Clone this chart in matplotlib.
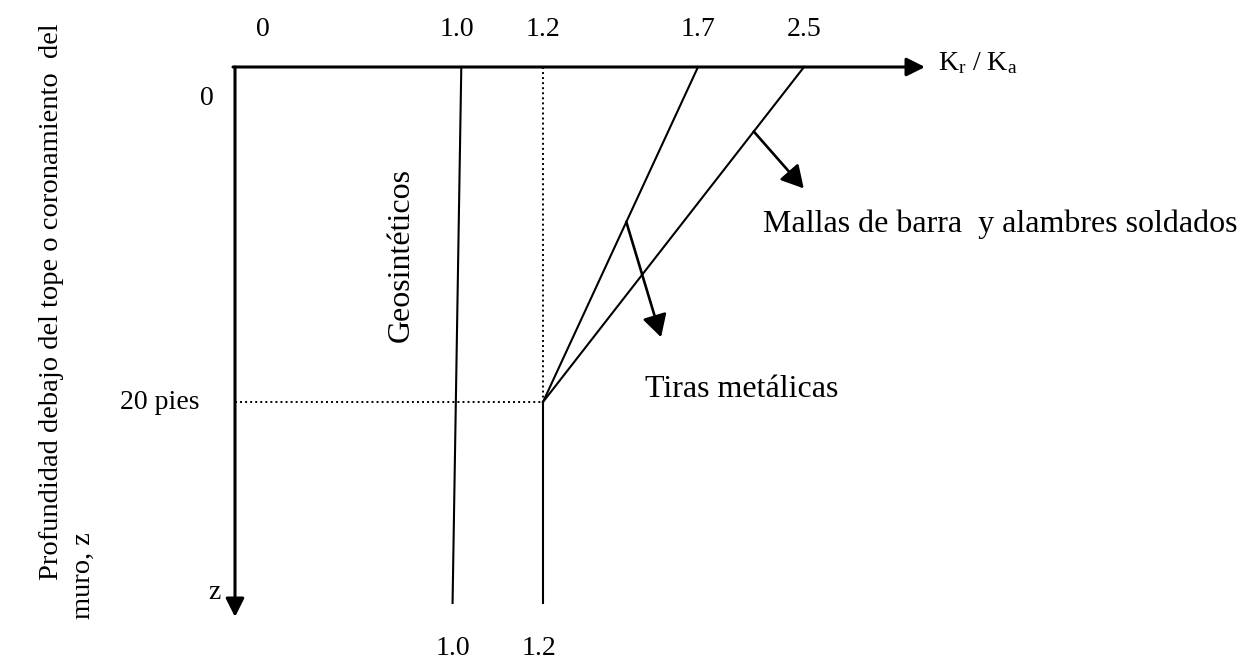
import numpy as np
import matplotlib.pyplot as plt

plt.rcParams['font.family'] = ['Liberation Serif', 'DejaVu Serif']
plt.rcParams['mathtext.fontset'] = 'custom'
plt.rcParams['mathtext.rm'] = 'Liberation Serif'
plt.rcParams['mathtext.it'] = 'Liberation Serif:italic'

# values
kr_ticks = [0, 1.0, 1.2, 1.7, 2.5]
kr_tick_labels = ['0', '1.0', '1.2', '1.7', '2.5']
kr_bottom = [1.0, 1.2]
kr_bottom_labels = ['1.0', '1.2']
z_crit = 20   # pies
z_max = 32    # schematic bottom, "z"

geo_kr = [1.01, 0.98]     # Geosinteticos (slightly slanted in original)
geo_z = [0, z_max]
tiras_kr = [1.7, 1.2]
tiras_z = [0, z_crit]
mallas_kr = [2.5, 1.2]
mallas_z = [0, z_crit]
deep_kr = [1.2, 1.2]
deep_z = [z_crit, z_max]
upper_kr = [1.2, 1.2]
upper_z = [0, z_crit]
crit_kr = [0, 1.2]
crit_z = [z_crit, z_crit]

# the diagram is not to scale -> piecewise axis (pixel positions of the ratios)
kr_knots = [-10, 0, 1.0, 1.2, 1.7, 2.5, 10]
px_knots = [235 - 2220, 235, 457, 543, 698, 804, 804 + 7.5 * 132.5]


def fwd(v):
    return np.interp(v, kr_knots, px_knots)


def inv(p):
    return np.interp(p, px_knots, kr_knots)


W, H = 1249, 661
Y0, PZ = 67, 16.75   # pixel row of z=0, pixels per pie


def zp(p):
    return (p - Y0) / PZ


def on_line(z, zs, krs):
    # point along a straight drawn segment (straight on screen, not in K units)
    return inv(np.interp(z, zs, fwd(np.array(krs))))


fig = plt.figure(figsize=(W / 100, H / 100), dpi=100)
ax = fig.add_axes([0, 0, 1, 1])
ax.set_xscale('function', functions=(fwd, inv))
ax.set_xlim(inv(0), inv(W))
ax.set_ylim(zp(H), zp(0))
ax.axis('off')

k = 'black'
# axes with arrows
ax_arr = dict(arrowstyle='-|>,head_length=0.4,head_width=0.2', lw=2.2, color=k,
              shrinkA=0, shrinkB=0, mutation_scale=28)
ax.annotate('', xy=(inv(925), 0), xytext=(inv(233), 0), arrowprops=ax_arr)
ax.annotate('', xy=(0, zp(617)), xytext=(0, 0), arrowprops=ax_arr)

lw = 1.5
ax.plot(geo_kr, geo_z, color=k, lw=lw)
ax.plot(tiras_kr, tiras_z, color=k, lw=lw)
ax.plot(mallas_kr, mallas_z, color=k, lw=lw)
ax.plot(deep_kr, deep_z, color=k, lw=lw)
ax.plot(upper_kr, upper_z, color=k, lw=1.4, ls=(0, (1, 1.6)))
ax.plot(crit_kr, crit_z, color=k, lw=1.4, ls=(0, (1, 1.6)))

# pointer arrows
arr = dict(arrowstyle='<|-,head_length=0.45,head_width=0.25', lw=1.9, color=k,
           shrinkA=0, shrinkB=0, mutation_scale=30)
zm = 3.85
ax.annotate('', xy=(on_line(zm, mallas_z, mallas_kr), zm), xytext=(36, -41),
            textcoords='offset points', arrowprops=arr)
zt = 9.25
ax.annotate('', xy=(on_line(zt, tiras_z, tiras_kr), zt), xytext=(25, -83),
            textcoords='offset points', arrowprops=arr)

fs_num = 20
fs_txt = 23
for v, lbl in zip(kr_ticks, kr_tick_labels):
    xv = inv(263) if v == 0 else v
    ax.text(xv, zp(36), lbl, ha='center', va='baseline', fontsize=fs_num)
for v, lbl in zip(kr_bottom, kr_bottom_labels):
    ax.text(inv(fwd(v) - 4), zp(655), lbl, ha='center', va='baseline', fontsize=fs_num)

ax.text(inv(207), zp(105), '0', ha='center', va='baseline', fontsize=fs_num)
ax.text(inv(160), zp(409), '20 pies', ha='center', va='baseline', fontsize=fs_num)
ax.text(inv(214), zp(599), 'z', ha='center', va='baseline', fontsize=fs_num)

ax.text(inv(938), zp(70), r'K$_{\mathrm{r}}$ / K$_{\mathrm{a}}$', ha='left', va='baseline',
        fontsize=fs_num)
ax.text(inv(763), zp(232), 'Mallas de barra  y alambres soldados', ha='left',
        va='baseline', fontsize=fs_txt)
ax.text(inv(645), zp(397), 'Tiras metálicas', ha='left', va='baseline', fontsize=fs_txt)
ax.text(inv(401), zp(255), 'Geosintéticos', rotation=90, ha='center', va='center',
        fontsize=fs_txt)

ax.text(inv(58), zp(580), 'Profundidad debajo del tope o coronamiento  del', rotation=90,
        rotation_mode='anchor', ha='left', va='baseline', fontsize=20.5)
ax.text(inv(90), zp(619), 'muro, z', rotation=90,
        rotation_mode='anchor', ha='left', va='baseline', fontsize=20.5)

fig.savefig('out.png', dpi=100)
